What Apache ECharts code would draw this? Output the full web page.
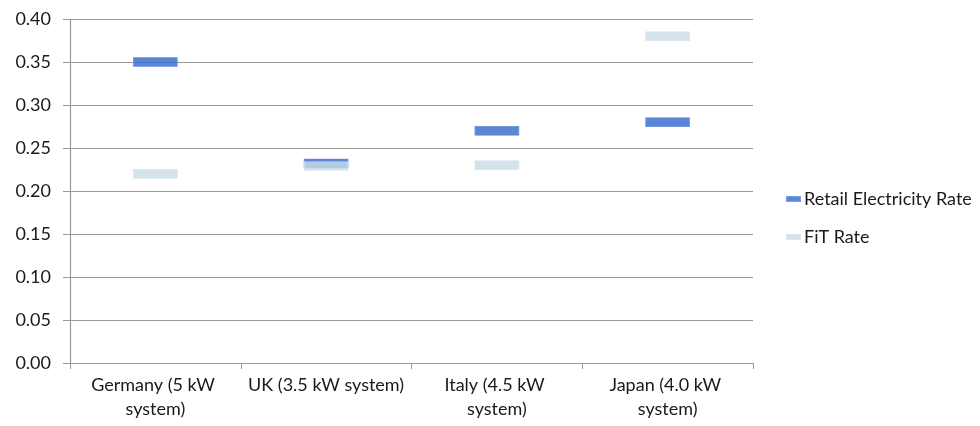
<!DOCTYPE html>
<html>
<head>
<meta charset="utf-8">
<script src="https://cdn.jsdelivr.net/npm/echarts@6/dist/echarts.min.js"></script>
<style>
  html, body { margin: 0; padding: 0; background: #fff; }
  #chart { width: 980px; height: 426px; }
</style>
</head>
<body>
<div id="chart"></div>
<script>
// Residential PV: retail electricity price vs feed-in tariff, per country
const categories = ['Germany (5 kW system)', 'UK (3.5 kW system)', 'Italy (4.5 kW system)', 'Japan (4.0 kW system)'];
const retailRate = [0.35, 0.232, 0.27, 0.28];
const fitRate = [0.22, 0.229, 0.23, 0.38];
const yTicks = [0, 0.05, 0.10, 0.15, 0.20, 0.25, 0.30, 0.35, 0.40];

const FONT = 'Lato';
const TEXT = '#1a1a1a';
const AXIS_GREY = '#9a9a9a';

const chart = echarts.init(document.getElementById('chart'), null, { renderer: 'canvas' });

chart.setOption({
  animation: false,
  backgroundColor: '#ffffff',
  textStyle: { fontFamily: FONT, color: TEXT },
  grid: { left: 70, right: 227, top: 19, bottom: 63, containLabel: false },
  legend: {
    orient: 'vertical',
    left: 786,
    top: 190,
    padding: 0,
    itemGap: 20,
    itemWidth: 13,
    itemHeight: 4,
    icon: 'rect',
    textStyle: { fontFamily: FONT, fontSize: 18, color: TEXT, padding: [0, 0, 0, -1] },
    data: ['Retail Electricity Rate', 'FiT Rate']
  },
  xAxis: {
    type: 'category',
    data: categories,
    boundaryGap: true,
    axisLine: { lineStyle: { color: AXIS_GREY, width: 1.2 } },
    axisTick: { show: true, length: 6, lineStyle: { color: AXIS_GREY } },
    axisLabel: {
      interval: 0,
      margin: 10,
      fontFamily: FONT,
      fontSize: 18,
      color: TEXT,
      width: 165,
      overflow: 'break',
      lineHeight: 24
    },
    splitLine: { show: false }
  },
  yAxis: {
    type: 'value',
    min: yTicks[0],
    max: yTicks[yTicks.length - 1],
    interval: 0.05,
    axisLine: { show: true, lineStyle: { color: AXIS_GREY, width: 1.2 } },
    axisTick: { show: true, length: 7, inside: false, lineStyle: { color: AXIS_GREY } },
    axisLabel: {
      margin: 19,
      fontFamily: FONT,
      fontSize: 18,
      color: TEXT,
      formatter: v => v.toFixed(2)
    },
    splitLine: { show: true, lineStyle: { color: AXIS_GREY, width: 1.2 } }
  },
  series: [
    {
      name: 'Retail Electricity Rate',
      type: 'scatter',
      symbol: 'rect',
      symbolSize: [43, 9],
      itemStyle: { color: '#3366cc', borderColor: '#5a86dc', borderWidth: 0.8 },
      data: retailRate,
      z: 2
    },
    {
      name: 'FiT Rate',
      type: 'scatter',
      symbol: 'rect',
      symbolSize: [43, 9],
      itemStyle: { color: '#c9dce4', borderColor: '#d6e4ea', borderWidth: 0.8 },
      data: fitRate,
      z: 3
    }
  ]
});
</script>
</body>
</html>
